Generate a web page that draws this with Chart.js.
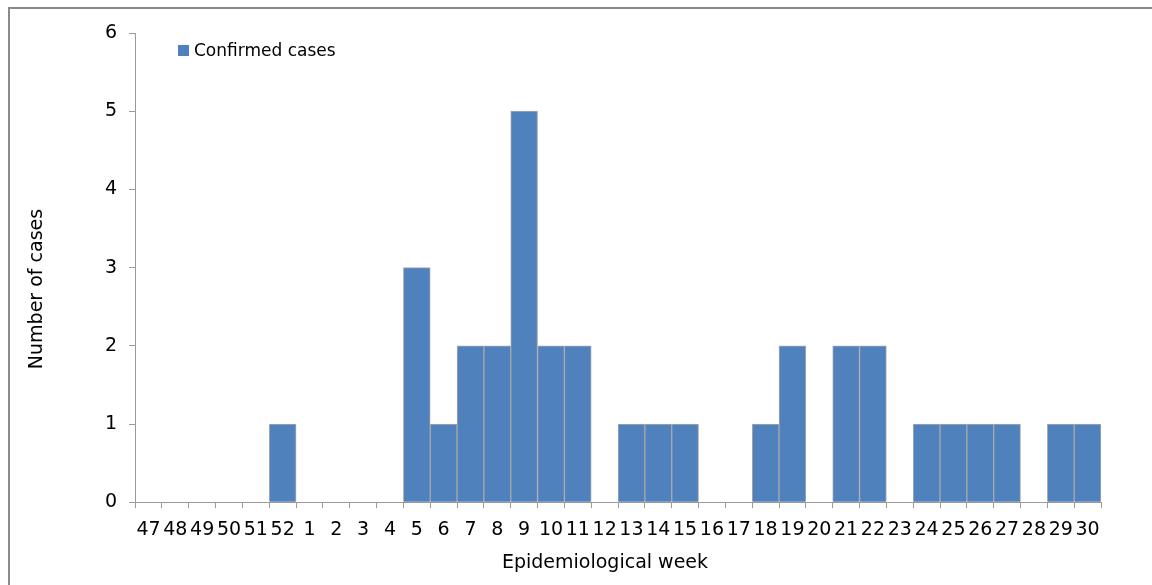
<!DOCTYPE html>
<html>
<head>
<meta charset="utf-8">
<script src="https://cdn.jsdelivr.net/npm/chart.js@4/dist/chart.umd.min.js"></script>
<style>
  html, body { margin: 0; padding: 0; background: #fff; }
  #wrap { position: relative; width: 1152px; height: 585px; overflow: hidden; }
  #frame { position: absolute; left: 8px; top: 7px; width: 1300px; height: 700px;
           border-left: 2px solid #8a8a8a; border-top: 2px solid #8a8a8a; pointer-events: none; }
</style>
</head>
<body>
<div id="wrap">
  <canvas id="chart"></canvas>
  <div id="frame"></div>
</div>
<script>
const weeks = ['47','48','49','50','51','52','1','2','3','4','5','6','7','8','9','10','11','12',
  '13','14','15','16','17','18','19','20','21','22','23','24','25','26','27','28','29','30']
const confirmed = [0,0,0,0,0,1,0,0,0,0,3,1,2,2,5,2,2,0,1,1,1,0,0,1,2,0,2,2,0,1,1,1,1,0,1,1]
const yTicks = [0,1,2,3,4,5,6]

const FONT = 'DejaVu Sans, Verdana, sans-serif'
const AXIS = '#9a9a9a'

// legend + axis titles drawn by hand so they sit where the original has them
const extras = {
  id: 'extras',
  afterDraw(chart) {
    const ctx = chart.ctx
    const ds = chart.data.datasets[0]
    ctx.save()
    ctx.fillStyle = ds.backgroundColor
    ctx.fillRect(178, 45, 11, 11)
    ctx.fillStyle = '#000'
    ctx.font = '17px ' + FONT
    ctx.textAlign = 'left'
    ctx.textBaseline = 'alphabetic'
    ctx.fillText(ds.label, 194, 56)

    ctx.font = '19px ' + FONT
    ctx.textAlign = 'center'
    ctx.fillText('Epidemiological week', 605, 568)
    ctx.translate(41.5, 289)
    ctx.rotate(-Math.PI / 2)
    ctx.fillText('Number of cases', 0, 0)
    ctx.restore()
  }
}

new Chart(document.getElementById('chart'), {
  type: 'bar',
  data: {
    labels: weeks,
    datasets: [{
      label: 'Confirmed cases',
      data: confirmed,
      backgroundColor: '#4f81bd',
      borderColor: '#a9a9a9',
      borderWidth: 1,
      barPercentage: 1,
      categoryPercentage: 1
    }]
  },
  options: {
    responsive: true, maintainAspectRatio: false, animation: false,
    layout: { padding: { left: 93, right: 51, top: 33, bottom: 34 } },
    plugins: { legend: { display: false }, tooltip: { enabled: false } },
    scales: {
      x: {
        grid: { offset: true, drawOnChartArea: false, drawTicks: true, tickLength: 6, color: AXIS },
        border: { color: AXIS },
        ticks: { color: '#000', padding: 10, maxRotation: 0, autoSkip: false, font: { family: FONT, size: 19 } }
      },
      y: {
        min: 0, max: 6,
        afterBuildTicks: s => { s.ticks = yTicks.map(v => ({ value: v })) },
        grid: { drawOnChartArea: false, drawTicks: true, tickLength: 6, color: AXIS },
        border: { color: AXIS },
        ticks: { color: '#000', padding: 12, font: { family: FONT, size: 19 } }
      }
    }
  },
  plugins: [extras]
})
</script>
</body>
</html>
